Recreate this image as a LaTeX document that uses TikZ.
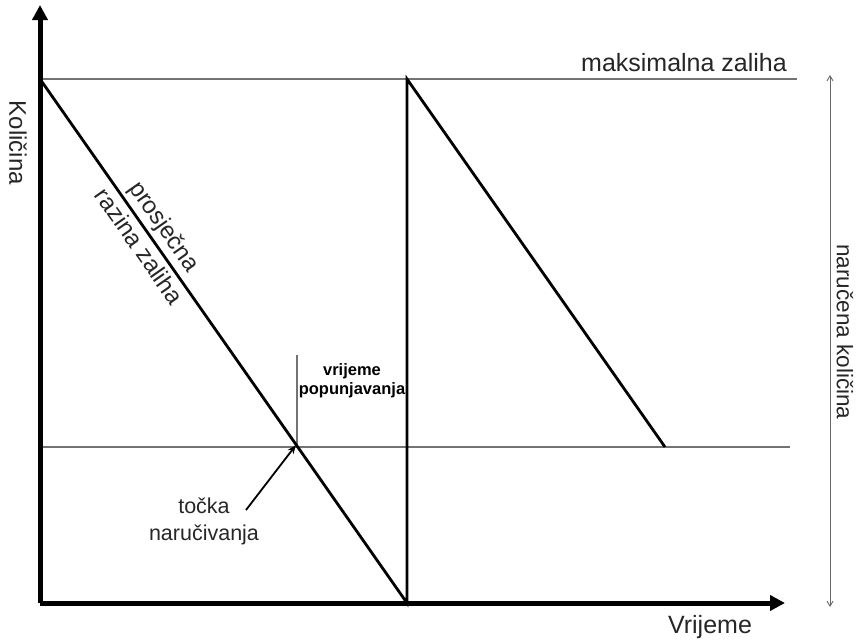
\documentclass[tikz,border=0pt]{standalone}
\usepackage{fontspec}
\setmainfont{Liberation Sans}
\usetikzlibrary{arrows.meta}
\begin{document}
\begin{tikzpicture}[x=1pt,y=-1pt,
  axis/.style={line width=5pt,-{Triangle[length=15pt,width=15pt]}},
  stock/.style={line width=2.8pt},
  guide/.style={line width=1.2pt,draw=black!55},
  lbl/.style={text=black!85,inner sep=0pt},
  small/.style={font=\bfseries\fontsize{16.5}{19}\selectfont,inner sep=0pt,align=center},
  ptr/.style={line width=1.8pt,-{Stealth[length=9pt,width=7pt]}},
  span/.style={line width=0.9pt,draw=black!60,{Straight Barb[length=5pt,width=6pt]}-{Straight Barb[length=5pt,width=6pt]}}]
\useasboundingbox (0,0) rectangle (856,641);
% coordinates
\coordinate (O) at (40,603);
\coordinate (Ytop) at (40,5);
\coordinate (Xend) at (785,603);
\coordinate (M0) at (40,79);
\coordinate (M1) at (797,79);
\coordinate (R0) at (40,447);
\coordinate (R1) at (790,447);
\coordinate (V0) at (407,603);
\coordinate (V1) at (407,79);
\coordinate (D2) at (665,447);
\coordinate (P) at (297,447);
\coordinate (Ptop) at (297,355);
\coordinate (S0) at (830,75);
\coordinate (S1) at (830,607);
% guide lines
\draw[guide] (M0) -- (M1);
\draw[guide] (R0) -- (R1);
\draw[guide] (P) -- (Ptop);
% stock curve
\draw[stock] (M0) -- (V0) -- (V1) -- (D2);
% axes
\draw[axis] (O) -- (Ytop);
\draw[axis] (O) -- (Xend);
% span arrow
\draw[span] (S0) -- (S1);
% labels
\node[lbl,rotate=-90,font=\fontsize{24}{26}\selectfont] (kol) at (18,143) {Količina};
\node[lbl,anchor=base,font=\fontsize{25}{27}\selectfont] (vri) at (710,633) {Vrijeme};
\node[lbl,anchor=base,font=\fontsize{25}{27}\selectfont] (max) at (684,71.5) {maksimalna zaliha};
\node[lbl,rotate=-90,font=\fontsize{22.5}{25}\selectfont] (nar) at (845,332) {naručena količina};
\node[lbl,rotate=-55.0,anchor=base,font=\fontsize{24}{26}\selectfont] (avg1) at (158.2,231.0) {prosječna};
\node[lbl,rotate=-55.0,anchor=base,font=\fontsize{24}{26}\selectfont] (avg2) at (132.6,251.0) {razina zaliha};
\node[small] (pop) at (352,381) {vrijeme\\popunjavanja};
\node[lbl,anchor=base,font=\fontsize{21.5}{24}\selectfont] (toc1) at (204,513) {točka};
\node[lbl,anchor=base,font=\fontsize{21.5}{24}\selectfont] (toc2) at (204,540) {naručivanja};
\coordinate (Pt) at (246,510);
\draw[ptr] (Pt) -- ([xshift=-1pt,yshift=2pt]P);
\end{tikzpicture}
\end{document}
